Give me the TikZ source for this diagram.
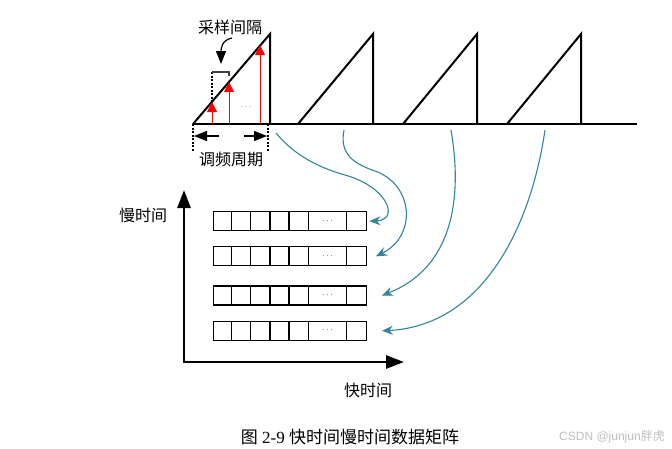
\documentclass[tikz,border=0pt]{standalone}
\usepackage{fontspec}
\setmainfont{Liberation Serif}
\newfontfamily\cjk{Noto Sans CJK SC}
\usetikzlibrary{arrows.meta}
\definecolor{tealc}{RGB}{49,133,156}
\definecolor{wmgray}{RGB}{190,190,190}
\begin{document}
\begin{tikzpicture}[x=1pt,y=-1pt,
  saw/.style={line width=2pt, line join=miter},
  tealarr/.style={draw=tealc, line width=1.1pt, -{Stealth[length=11pt,width=9pt]}},
  redarr/.style={draw=red, line width=0.9pt, -{Triangle[length=10pt,width=10pt]}},
  blkarr/.style={draw=black, line width=1.2pt, -{Triangle[length=13pt,width=10pt]}},
  axisarr/.style={draw=black, line width=2.6pt, -{Triangle[length=18pt,width=13pt]}},
  guide/.style={draw=black, line width=1.1pt, dash pattern=on 2pt off 1.5pt},
  lbl/.style={inner sep=0pt, font=\cjk\fontsize{16}{16}\selectfont},
  rowbox/.style={draw=black, line width=1.2pt, minimum width=153pt, minimum height=19pt, inner sep=0pt},
  celldots/.style={inner sep=0pt, font=\fontsize{9}{9}\selectfont}
]
\useasboundingbox (0,0) rectangle (672,448);

% ---- sawtooth chirp signal ----
\coordinate (o1) at (193,124); \coordinate (p1) at (270,34); \coordinate (b1) at (270,124);
\coordinate (o2) at (298,124); \coordinate (p2) at (373,34); \coordinate (b2) at (373,124);
\coordinate (o3) at (403,124); \coordinate (p3) at (477,34); \coordinate (b3) at (477,124);
\coordinate (o4) at (507,124); \coordinate (p4) at (581,34); \coordinate (b4) at (581,124);
\coordinate (bend) at (637,124);
\draw[saw] (o1) -- (p1) -- (b1);
\draw[saw] (o2) -- (p2) -- (b2);
\draw[saw] (o3) -- (p3) -- (b3);
\draw[saw] (o4) -- (p4) -- (b4);
\draw[line width=2.4pt] (o1) -- (bend);

% ---- sampling arrows ----
\coordinate (sa) at (212,124); \coordinate (sat) at (212,102);
\coordinate (sb) at (229,124); \coordinate (sbt) at (229,82);
\coordinate (sc) at (260,124); \coordinate (sct) at (260,45);
\draw[redarr] (sa) -- (sat);
\draw[redarr] (sb) -- (sbt);
\draw[redarr] (sc) -- (sct);
\node[inner sep=0pt, text=red, font=\fontsize{9}{9}\selectfont] (rdots) at (246,107) {$\cdots$};

% ---- sampling interval bracket ----
\coordinate (bl) at (212,72); \coordinate (br) at (229,72);
\draw[guide] (bl) -- (212,101);
\draw[line width=1.2pt, draw=black!75] (bl) -- (br) -- (229,76);
\node[lbl] (samp) at (230,27) {采样间隔};
\coordinate (ca) at (232,38); \coordinate (cb) at (221,64);
\draw[blkarr] (ca) .. controls (222,40) and (221,48) .. (cb);

% ---- chirp period ----
\coordinate (d1) at (193,124); \coordinate (d1e) at (193,152);
\coordinate (d2) at (268,124); \coordinate (d2e) at (268,152);
\draw[guide] (d1) -- (d1e);
\draw[guide] (d2) -- (d2e);
\coordinate (la) at (219,136); \coordinate (lt) at (194,136);
\coordinate (ra) at (244,136); \coordinate (rt) at (267,136);
\draw[blkarr] (la) -- (lt);
\draw[blkarr] (ra) -- (rt);
\node[lbl] (period) at (231,159) {调频周期};

% ---- axes ----
\coordinate (ax0) at (184,362);
\coordinate (axy) at (184,190);
\coordinate (axx) at (404,362);
\draw[axisarr] (ax0) -- (axy);
\draw[axisarr] ([xshift=-1.3pt]ax0) -- (axx);
\node[lbl] (slow) at (143,215) {慢时间};
\node[lbl] (fast) at (368,390) {快时间};

% ---- data matrix rows ----
\foreach \n/\y in {1/221.2, 2/256.3, 3/295.5, 4/330.8}{
  \node[rowbox, anchor=west] (r\n) at (212.7,\y) {};
  \foreach \dx in {19,38,57.3,76.3,95.6,134}{
    \draw[line width=1.2pt] ([xshift=\dx pt]r\n.north west) -- ([xshift=\dx pt]r\n.south west);
  }
  \node[celldots] (dots\n) at ([xshift=114.8pt]r\n.west) {$\cdots$};
}

% ---- mapping arrows ----
\coordinate (s1) at (276,133); \coordinate (t1) at ([xshift=2.5pt]r1.east);
\coordinate (s2) at (344,130); \coordinate (t2) at ([xshift=9pt]r2.east);
\coordinate (s3) at (451,130); \coordinate (t3) at ([xshift=15pt]r3.east);
\coordinate (s4) at (545,130); \coordinate (t4) at ([xshift=15pt]r4.east);
\draw[tealarr] (s1) .. controls (295,156) and (320,168) .. (345,175)
               .. controls (388,187) and (400,220) .. (t1);
\draw[tealarr] (s2) .. controls (339,155) and (355,164) .. (375,171)
               .. controls (414,185) and (417,236) .. (t2);
\draw[tealarr] (s3) .. controls (463,200) and (452,268) .. (t3);
\draw[tealarr] (s4) .. controls (530,232) and (480,326) .. (t4);

% ---- caption ----
\node[inner sep=0pt, font=\fontsize{17}{17}\selectfont] (cap) at (350,437)
  {{\cjk 图} 2-9 {\cjk 快时间慢时间数据矩阵}};
\node[inner sep=0pt, text=wmgray, font=\fontsize{12}{12}\selectfont] (wm) at (612,437)
  {\fontspec{Liberation Sans}CSDN @junjun{\cjk 胖虎}};
\end{tikzpicture}
\end{document}
